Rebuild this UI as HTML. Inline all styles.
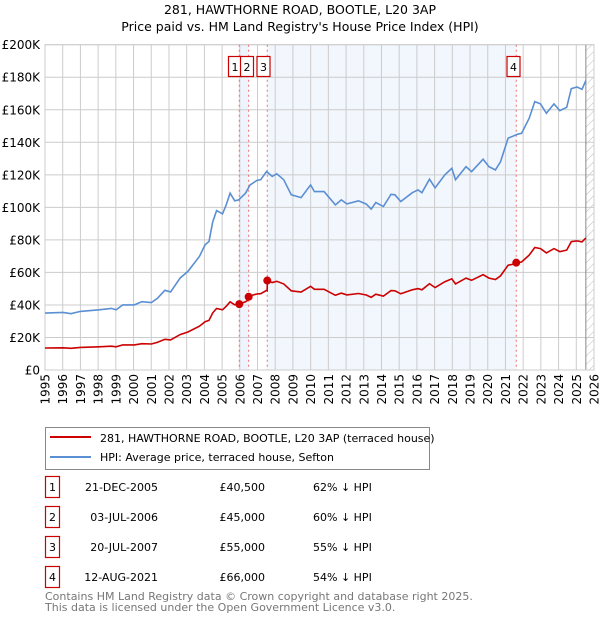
<!DOCTYPE html>
<html><head><meta charset="utf-8"><style>
body{margin:0;background:#fff;font-family:"Liberation Sans","DejaVu Sans",sans-serif;}
</style></head><body>
<svg id="c" width="600" height="620" xmlns="http://www.w3.org/2000/svg" style="font-family:'DejaVu Sans','Liberation Sans',sans-serif">
<defs><pattern id="hatch" width="6" height="6" patternUnits="userSpaceOnUse" patternTransform="rotate(45)"><line x1="0" y1="0" x2="0" y2="6" stroke="#bbb" stroke-width="1"/></pattern></defs>
<text x="300" y="14" text-anchor="middle" font-size="12.5">281, HAWTHORNE ROAD, BOOTLE, L20 3AP</text>
<text x="300" y="31" text-anchor="middle" font-size="12.5">Price paid vs. HM Land Registry's House Price Index (HPI)</text>
<g id="plot"></g>
<g>
<rect x="45.5" y="427.5" width="384" height="42" fill="#fff" stroke="#888"/>
<line x1="50" y1="437" x2="91" y2="437" stroke="#cc0000" stroke-width="2"/>
<text x="100" y="442" font-size="11">281, HAWTHORNE ROAD, BOOTLE, L20 3AP (terraced house)</text>
<line x1="50" y1="457" x2="91" y2="457" stroke="#5b8fd4" stroke-width="2"/>
<text x="100" y="461" font-size="11">HPI: Average price, terraced house, Sefton</text>
</g>
<g id="table" font-size="11"></g>
<text x="45" y="600" font-size="11" fill="#777">Contains HM Land Registry data © Crown copyright and database right 2025.</text>
<text x="45" y="611" font-size="11" fill="#777">This data is licensed under the Open Government Licence v3.0.</text>
</svg>
<script>
const hpiYears=[1995.0,1996.03,1996.46,1997.0,1998.05,1998.74,1999.02,1999.39,2000.04,2000.47,2001.01,2001.34,2001.77,2002.09,2002.63,2003.07,2003.72,2004.04,2004.26,2004.47,2004.69,2005.02,2005.23,2005.45,2005.71,2005.93,2006.32,2006.58,2006.96,2007.18,2007.51,2007.83,2008.09,2008.48,2008.91,2009.46,2010.0,2010.21,2010.76,2011.40,2011.73,2012.05,2012.70,2013.14,2013.42,2013.68,2014.11,2014.54,2014.76,2015.09,2015.74,2016.06,2016.28,2016.71,2017.03,2017.58,2017.97,2018.18,2018.77,2019.09,2019.74,2020.07,2020.43,2020.72,2021.15,2021.47,2021.69,2021.91,2022.34,2022.66,2022.98,2023.31,2023.74,2024.07,2024.46,2024.72,2025.04,2025.32,2025.54];
const hpiValues=[35,35.4,34.6,36,37,37.9,37,40,40,42,41.5,44,49,48,56.5,60.6,69.8,77,79,91,98,96,101.5,108.7,104,104.6,108.7,113.8,116.5,117,122,119,120.6,117,107.7,106,113.8,109.7,109.7,101.5,104.6,102.1,104,102,98.9,103,100.5,108,107.7,103.6,109,110.7,109,117.3,112,120,124,117,125,122,129.6,125,123,128,142.5,144,145,145.5,154.8,165,163.6,157.8,163.6,159.5,161.5,173,174,172.6,178];
const saleLabels=["1","2","3","4"];
const saleYears=[2005.97,2006.50,2007.55,2021.61];
const salePrices=[40.5,45,55,66];
const saleDates=["21-DEC-2005","03-JUL-2006","20-JUL-2007","12-AUG-2021"];
const salePriceText=["£40,500","£45,000","£55,000","£66,000"];
const salePct=["62% ↓ HPI","60% ↓ HPI","55% ↓ HPI","54% ↓ HPI"];
const yTicks=[0,20,40,60,80,100,120,140,160,180,200];
const yTickLabels=["£0","£20K","£40K","£60K","£80K","£100K","£120K","£140K","£160K","£180K","£200K"];
const xTicks=[1995,1996,1997,1998,1999,2000,2001,2002,2003,2004,2005,2006,2007,2008,2009,2010,2011,2012,2013,2014,2015,2016,2017,2018,2019,2020,2021,2022,2023,2024,2025,2026];

const NS="http://www.w3.org/2000/svg";
const L=45,R=594,T=44.7,B=370;
const X=y=>L+(y-1995)/(2026-1995)*(R-L);
const Y=v=>B-v/200*(B-T);
function mk(tag,attrs,parent){const e=document.createElementNS(NS,tag);for(const k in attrs)e.setAttribute(k,attrs[k]);parent.appendChild(e);return e;}
const plot=document.getElementById('plot');
function hpiAt(yr){for(let i=0;i<hpiYears.length-1;i++){if(yr<=hpiYears[i+1]){const t=(yr-hpiYears[i])/(hpiYears[i+1]-hpiYears[i]);return hpiValues[i]+t*(hpiValues[i+1]-hpiValues[i]);}}return hpiValues[hpiValues.length-1];}
// shading
let s=mk('rect',{x:X(saleYears[0]),y:T,width:X(saleYears[1])-X(saleYears[0]),height:B-T,fill:'#eef3fc'},plot);


s=mk('rect',{x:X(saleYears[2]),y:T,width:X(saleYears[3])-X(saleYears[2]),height:B-T,fill:'#f2f6fd'},plot);


let h=mk('rect',{x:X(2025.54),y:T,width:R-X(2025.54),height:B-T,fill:'url(#hatch)'},plot);


// grid
yTicks.forEach((v,i)=>{
 const g=mk('line',{x1:L,x2:R,y1:Y(v),y2:Y(v),stroke:'#ccc','stroke-width':1},plot);
 
 
 const t=mk('text',{x:40,y:Y(v)+4.5,'text-anchor':'end','font-size':12},plot);t.textContent=yTickLabels[i];
 
 
});
xTicks.forEach(yr=>{
 const g=mk('line',{x1:X(yr),x2:X(yr),y1:T,y2:B,stroke:'#ccc','stroke-width':1},plot);
 
 
 const t=mk('text',{x:0,y:0,'text-anchor':'end','font-size':12,transform:`translate(${X(yr)+4.5},374) rotate(-90)`},plot);t.textContent=yr;
 
 
});
let dl=mk('line',{x1:X(2025.54),x2:X(2025.54),y1:T,y2:B,stroke:'#888','stroke-width':1},plot);


let ax=mk('rect',{x:L,y:T,width:R-L,height:B-T,fill:'none',stroke:'#ccc'},plot);


// sale vlines
saleYears.forEach((yr,i)=>{
 const v=mk('line',{x1:X(yr),x2:X(yr),y1:T,y2:B,stroke:'#f07070','stroke-width':1,'stroke-dasharray':'2,3'},plot);
 
 
});
// hpi line
let d=hpiYears.map((yr,i)=>(i?'L':'M')+X(yr).toFixed(1)+','+Y(hpiValues[i]).toFixed(1)).join(' ');
let hl=mk('path',{d:d,fill:'none',stroke:'#5b8fd4','stroke-width':1.6},plot);


// property line: indexed to hpi from last sale
function ratioAt(yr){let k=0;for(let i=0;i<saleYears.length;i++)if(yr>=saleYears[i])k=i;return salePrices[k]/hpiAt(saleYears[k]);}
let pts=[];
hpiYears.forEach((yr,i)=>{
 saleYears.forEach((sy,j)=>{if(sy>(i?hpiYears[i-1]:0)&&sy<=yr){pts.push([sy-0.001,hpiAt(sy)*ratioAt(sy-0.001)]);pts.push([sy,salePrices[j]]);}});
 pts.push([yr,hpiValues[i]*ratioAt(yr)]);
});
d=pts.map((p,i)=>(i?'L':'M')+X(p[0]).toFixed(1)+','+Y(p[1]).toFixed(1)).join(' ');
let pl=mk('path',{d:d,fill:'none',stroke:'#cc0000','stroke-width':1.6},plot);


saleYears.forEach((yr,i)=>{
 const c=mk('circle',{cx:X(yr),cy:Y(salePrices[i]),r:4,fill:'#cc0000'},plot);
 
 
});
// top boxes
const boxX=[228,240,256.5,506.5];
saleLabels.forEach((lb,i)=>{
 const g=mk('g',{},plot);
 
 
 mk('rect',{x:boxX[i]+0.5,y:56.5,width:13,height:20,fill:'#fff',stroke:'#cc0000','stroke-width':1.2},g);
 const t=mk('text',{x:boxX[i]+7,y:71,'text-anchor':'middle','font-size':11},g);t.textContent=lb;
});
// table
const tb=document.getElementById('table');
saleLabels.forEach((lb,i)=>{
 const y0=476+i*30;
 const g=mk('g',{},tb);
 
 
 mk('rect',{x:45.5,y:y0+0.5,width:14,height:21,fill:'#fff',stroke:'#cc0000','stroke-width':1.2},g);
 let t=mk('text',{x:52.5,y:y0+15,'text-anchor':'middle'},g);t.textContent=lb;
 t=mk('text',{x:158,y:y0+15,'text-anchor':'end'},g);t.textContent=saleDates[i];
 t=mk('text',{x:265,y:y0+15,'text-anchor':'end'},g);t.textContent=salePriceText[i];
 t=mk('text',{x:313,y:y0+15},g);t.textContent=salePct[i];
});
</script>
</body></html>
